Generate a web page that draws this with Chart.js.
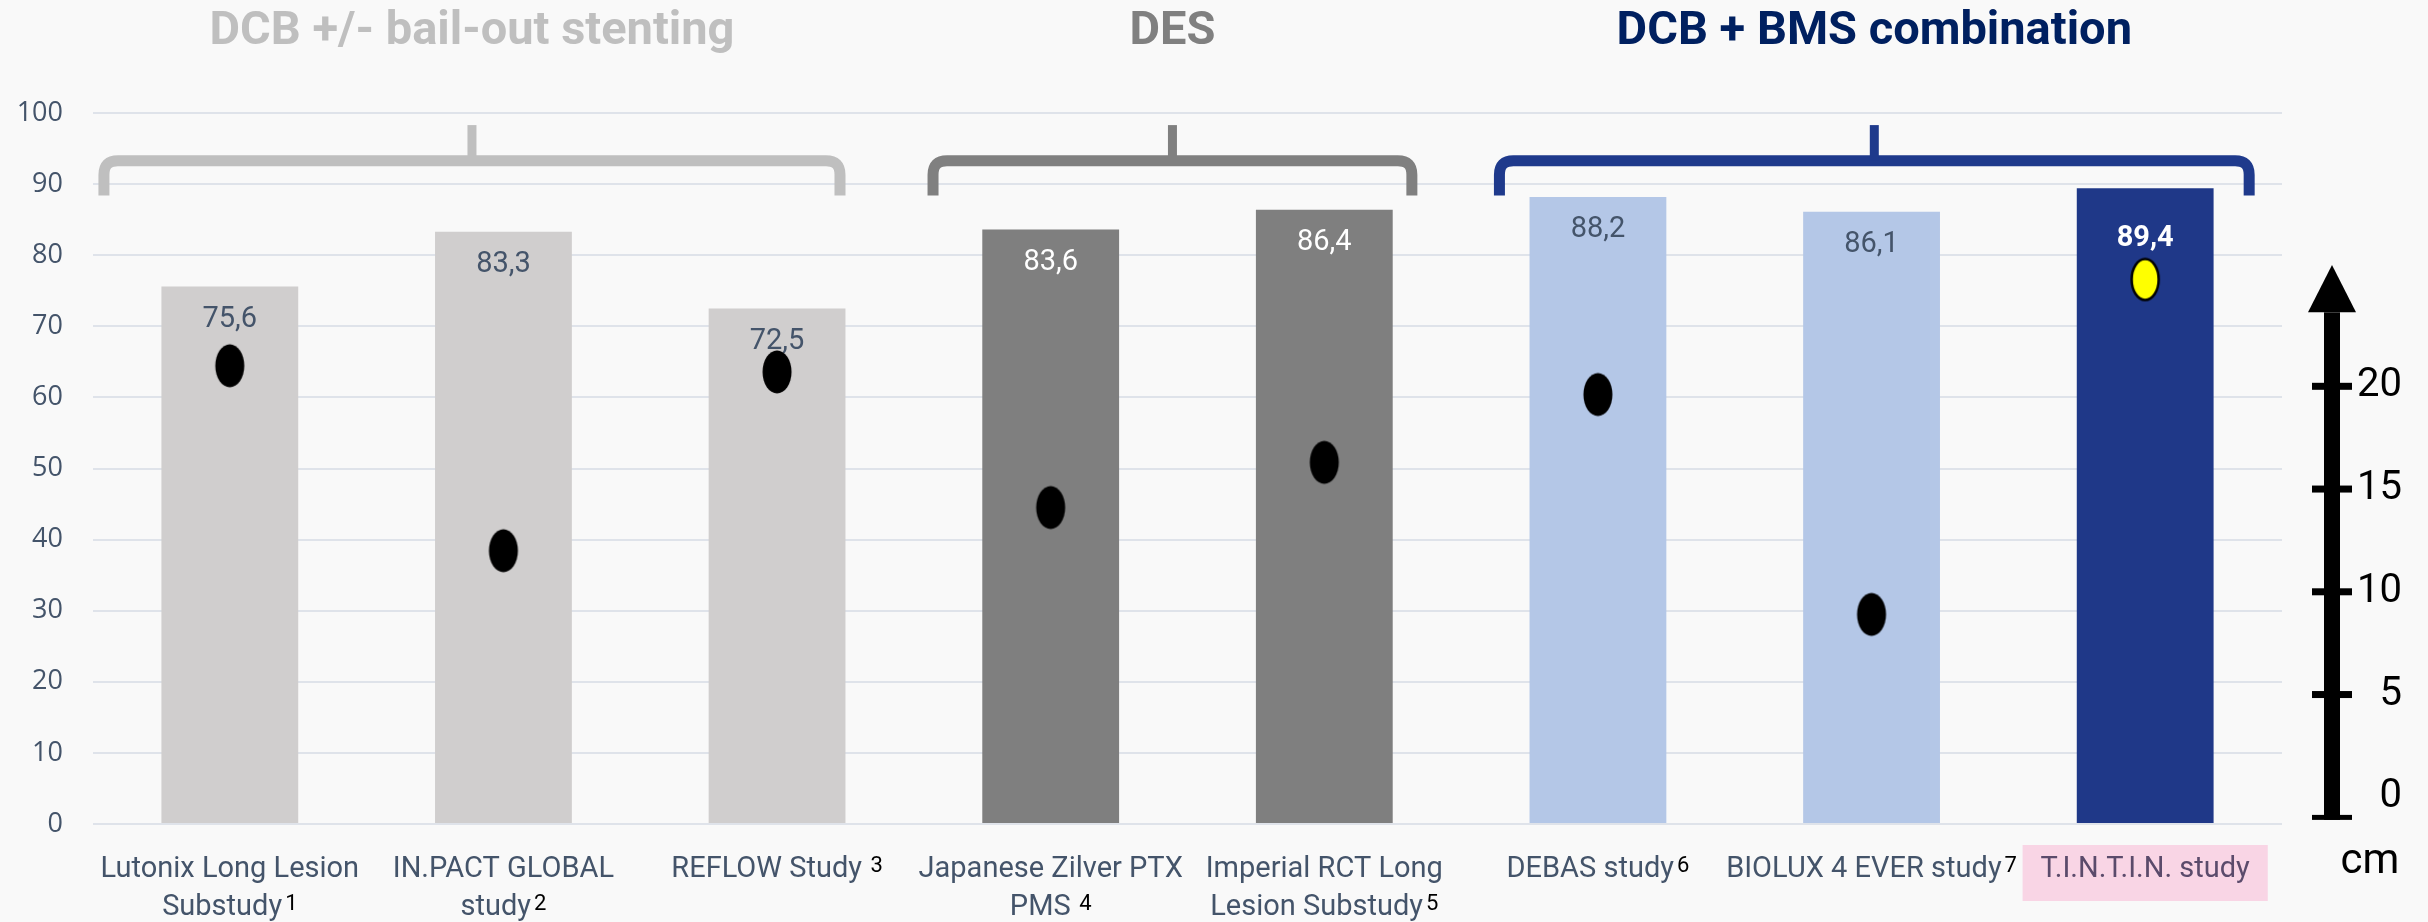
<!DOCTYPE html>
<html>
<head>
<meta charset="utf-8">
<script src="https://cdn.jsdelivr.net/npm/chart.js@4.4.1/dist/chart.umd.min.js"></script>
<style>
  html, body { margin: 0; padding: 0; background: #f9f9f9; }
  canvas { display: block; }
</style>
</head>
<body>
<canvas id="patencyChart" width="2428" height="922"></canvas>
<script>
// Primary patency (%) per study, lesion length (cm) shown as dots on the right scale
const studies = [
  ['Lutonix Long Lesion', 'Substudy'],
  ['IN.PACT GLOBAL', 'study'],
  ['REFLOW Study'],
  ['Japanese Zilver PTX', 'PMS'],
  ['Imperial RCT Long', 'Lesion Substudy'],
  ['DEBAS study'],
  ['BIOLUX 4 EVER study'],
  ['T.I.N.T.I.N. study']
];
const footnotes = ['1', '2', ' 3', ' 4', '5', '6', '7', ''];
const patency = [75.6, 83.3, 72.5, 83.6, 86.4, 88.2, 86.1, 89.4];
const lesionCm = [21.0, 12.0, 20.7, 14.1, 16.3, 19.6, 8.9, 25.2];
const cmTicks = [0, 5, 10, 15, 20];
const groupTitles = ['DCB +/- bail-out stenting', 'DES', 'DCB + BMS combination'];

const barColors = ['#d0cece', '#d0cece', '#d0cece', '#7f7f7f', '#7f7f7f', '#b4c7e7', '#b4c7e7', '#1f3888'];
const valueColors = ['#44546a', '#44546a', '#44546a', '#ffffff', '#ffffff', '#44546a', '#44546a', '#ffffff'];
const last = studies.length - 1;

// brace spans in category units, heights in patency units
const groups = [
  { from: -0.46, to: 2.23, color: '#bfbfbf' },
  { from: 2.57, to: 4.32, color: '#808080' },
  { from: 4.64, to: 7.38, color: '#1f3a8c' }
];
const groupTitleColors = ['#bfbfbf', '#808080', '#002060'];

function oval(fill, stroke) {
  const c = document.createElement('canvas');
  c.width = 34; c.height = 48;
  const g = c.getContext('2d');
  g.beginPath();
  g.ellipse(17, 24, stroke ? 13.5 : 14.5, stroke ? 20.5 : 21.5, 0, 0, Math.PI * 2);
  g.fillStyle = fill;
  g.fill();
  if (stroke) {
    g.lineWidth = 2.5;
    g.strokeStyle = stroke;
    g.stroke();
  }
  return c;
}
const blackDot = oval('#000000');
const yellowDot = oval('#ffff00', '#000000');

const barLabels = {
  id: 'barLabels',
  afterDatasetDraw(chart, args) {
    if (args.index !== 0) return;
    const ctx = chart.ctx;
    args.meta.data.forEach((bar, i) => {
      ctx.save();
      ctx.font = (i === last ? 'bold ' : '') + '29px Roboto';
      ctx.fillStyle = valueColors[i];
      ctx.textAlign = 'center';
      ctx.textBaseline = 'middle';
      ctx.fillText(patency[i].toFixed(1).replace('.', ','), bar.x, bar.y + (i === last ? 50 : 33));
      ctx.restore();
    });
  }
};

const groupBraces = {
  id: 'groupBraces',
  afterDraw(chart) {
    const { ctx, scales: { x, y } } = chart;
    const yBar = y.getPixelForValue(93.3);
    const yLeg = y.getPixelForValue(88.4);
    const yTip = y.getPixelForValue(98.3);
    const r = 14;
    groups.forEach((grp, gi) => {
      const x0 = x.getPixelForValue(grp.from);
      const x1 = x.getPixelForValue(grp.to);
      const mid = (x0 + x1) / 2;
      ctx.save();
      ctx.strokeStyle = grp.color;
      ctx.lineWidth = 11;
      ctx.lineJoin = 'round';
      ctx.beginPath();
      ctx.moveTo(x0, yLeg);
      ctx.lineTo(x0, yBar + r);
      ctx.quadraticCurveTo(x0, yBar, x0 + r, yBar);
      ctx.lineTo(x1 - r, yBar);
      ctx.quadraticCurveTo(x1, yBar, x1, yBar + r);
      ctx.lineTo(x1, yLeg);
      ctx.stroke();
      ctx.lineWidth = 9;
      ctx.beginPath();
      ctx.moveTo(mid, yBar);
      ctx.lineTo(mid, yTip);
      ctx.stroke();

      ctx.font = 'bold 47px Roboto';
      ctx.fillStyle = groupTitleColors[gi];
      ctx.textAlign = 'center';
      ctx.textBaseline = 'alphabetic';
      ctx.fillText(groupTitles[gi], mid, 44);
      ctx.restore();
    });
  }
};

const studyLabels = {
  id: 'studyLabels',
  afterDraw(chart) {
    const { ctx, scales: { x }, chartArea } = chart;
    const base = chartArea.bottom + 53;
    ctx.save();
    ctx.textBaseline = 'alphabetic';
    ctx.textAlign = 'left';
    studies.forEach((lines, i) => {
      const cx = x.getPixelForValue(i);
      lines.forEach((line, j) => {
        const ly = base + j * 38;
        const note = j === lines.length - 1 ? footnotes[i] : '';
        ctx.font = '29px Roboto';
        const w = ctx.measureText(line).width;
        ctx.font = '22px Roboto';
        const fw = note ? ctx.measureText(note).width + 3 : 0;
        const left = cx - (w + fw) / 2;
        if (i === last) {
          ctx.fillStyle = '#f9d5e5';
          ctx.fillRect(cx - w / 2 - 18, ly - 32, w + 36, 56);
        }
        ctx.font = '29px Roboto';
        ctx.fillStyle = i === last ? '#5b4b6b' : '#44546a';
        ctx.fillText(line, left, ly);
        if (note) {
          ctx.font = '22px Roboto';
          ctx.fillStyle = '#000000';
          ctx.fillText(note, left + w + 3, ly - 5);
        }
      });
    });
    ctx.restore();
  }
};

const lengthAxis = {
  id: 'lengthAxis',
  afterDraw(chart) {
    const { ctx, scales: { cm }, chartArea } = chart;
    const ax = cm.left + 50;
    const yFoot = cm.getPixelForValue(-1.1);
    const yBase = cm.getPixelForValue(23.6);
    const yTip = cm.getPixelForValue(25.9);
    ctx.save();
    ctx.fillStyle = '#000000';
    ctx.fillRect(ax - 8, yBase, 16, yFoot - yBase);
    ctx.fillRect(ax - 20, yFoot - 5, 40, 5);
    cmTicks.slice(1).forEach(v => {
      const ty = cm.getPixelForValue(v);
      ctx.fillRect(ax - 20, ty - 3.5, 40, 7);
    });
    ctx.beginPath();
    ctx.moveTo(ax, yTip);
    ctx.lineTo(ax + 24, yBase);
    ctx.lineTo(ax - 24, yBase);
    ctx.closePath();
    ctx.fill();
    ctx.font = '42px Roboto';
    ctx.textAlign = 'center';
    ctx.textBaseline = 'alphabetic';
    ctx.fillText('cm', ax + 38, chartArea.bottom + 49);
    ctx.restore();
  }
};

new Chart(document.getElementById('patencyChart'), {
  type: 'bar',
  data: {
    labels: studies,
    datasets: [
      {
        label: 'Primary patency',
        data: patency,
        backgroundColor: barColors,
        borderWidth: 0,
        barPercentage: 0.5,
        categoryPercentage: 1.0,
        yAxisID: 'y',
        order: 1
      },
      {
        type: 'line',
        label: 'Lesion length',
        data: lesionCm,
        yAxisID: 'cm',
        showLine: false,
        pointStyle: lesionCm.map((v, i) => (i === last ? yellowDot : blackDot)),
        pointRadius: 15,
        order: 0
      }
    ]
  },
  options: {
    responsive: false,
    animation: false,
    events: [],
    layout: { padding: { top: 113, left: 0, right: 26, bottom: 0 } },
    plugins: {
      legend: { display: false },
      tooltip: { enabled: false }
    },
    scales: {
      x: {
        grid: { display: false },
        border: { display: false },
        ticks: { display: false },
        afterFit(scale) { scale.height = 98; }
      },
      y: {
        position: 'left',
        min: 0,
        max: 100,
        ticks: {
          stepSize: 10,
          color: '#44546a',
          font: { family: 'Open Sans', size: 27 },
          padding: 30
        },
        grid: { color: '#dfe3ea', lineWidth: 2, drawTicks: false },
        border: { display: false },
        afterFit(scale) { scale.width = 93; }
      },
      cm: {
        position: 'right',
        min: -1.3,
        max: 33.3,
        grid: { display: false, drawTicks: false },
        border: { display: false },
        ticks: {
          color: '#000000',
          font: { family: 'Roboto', size: 40 },
          crossAlign: 'far',
          padding: 54
        },
        afterBuildTicks(scale) {
          scale.ticks = cmTicks.map(v => ({ value: v }));
        },
        afterFit(scale) { scale.width = 120; }
      }
    }
  },
  plugins: [barLabels, groupBraces, studyLabels, lengthAxis]
});
</script>
</body>
</html>
